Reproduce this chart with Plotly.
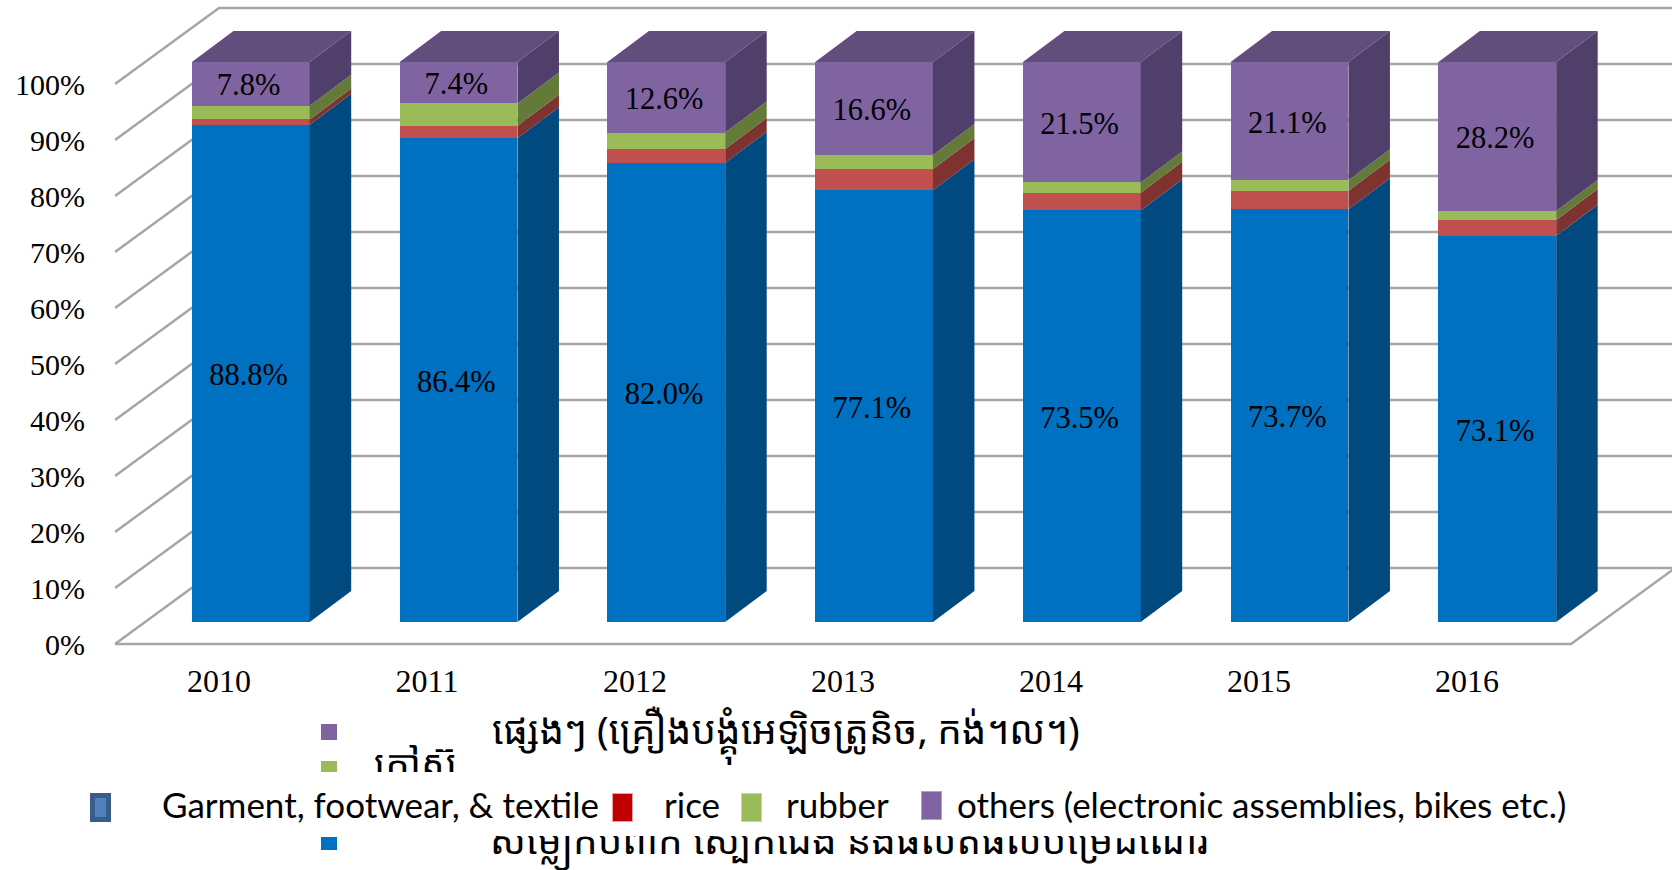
import plotly.graph_objects as go

# Export mix by year; the chart normalises each stack to 100%
years = [2010, 2011, 2012, 2013, 2014, 2015, 2016]
garment = [88.8, 86.4, 82.0, 77.1, 73.5, 73.7, 73.1]
rice = [0.95, 2.2, 2.45, 3.8, 3.15, 3.3, 3.0]
rubber = [2.45, 4.0, 2.95, 2.5, 1.85, 1.9, 1.7]
others = [7.8, 7.4, 12.6, 16.6, 21.5, 21.1, 28.2]

series_names = ["Garment, footwear, & textile", "rice", "rubber",
                "others (electronic assemblies, bikes etc.)"]
khmer_names = ["ផ្សេងៗ (គ្រឿងបង្គុំអេឡិចត្រូនិច, កង់។ល។)", "កៅស៊ូ",
               "សម្លៀកបំពាក់ ស្បែកជើង និងផលិតផលបម្រើដំណើរ"]
front_colors = ["#0070C0", "#C0504D", "#9BBB59", "#8064A2"]
side_colors = ["#004A80", "#7F3331", "#637A38", "#513F6B"]
top_color = "#624E7C"
grid_color = "#A6A6A6"
percent_ticks = list(range(0, 101, 10))

W, H = 1672, 870
PLOT_L, PLOT_B = 110, 650
UNIT_X = 208.0       # pixels per category on the floor plane
BAR_UNIT_X = 207.75  # pixels per category on the bar plane
UNIT_Y = 5.6         # pixels per percentage point

WALL_DX, WALL_DY = 0.5, 76 / UNIT_Y
BAR_DX, BAR_DY = 41.5 / BAR_UNIT_X, 31 / UNIT_Y
BAR_W = 117.8 / BAR_UNIT_X
BAR_LIFT = 22 / UNIT_Y
LABEL_DX, LABEL_DY = 2.2 / BAR_UNIT_X, 4 / UNIT_Y

x_lo = 2010 - (219 - PLOT_L) / UNIT_X
x_hi = 2010 + (W - 219) / UNIT_X
y_lo = (644 - PLOT_B) / UNIT_Y
y_hi = 644 / UNIT_Y
x2_lo = 2010 - (250.8 - PLOT_L) / BAR_UNIT_X
x2_hi = x2_lo + (W - PLOT_L) / BAR_UNIT_X


def px(x):
    return (x - PLOT_L) / (W - PLOT_L)


def py(y):
    return (PLOT_B - y) / PLOT_B


fig = go.Figure()

# Floor outline and wall gridlines on the base axes
gx, gy = [], []
wall_x = years[0] - 0.5
for v in percent_ticks:
    gx += [wall_x, wall_x + WALL_DX, x_hi, None]
    gy += [v, v + WALL_DY, v + WALL_DY, None]
gx += [wall_x, years[-1] + 0.5, years[-1] + 0.5 + WALL_DX]
gy += [0, 0, WALL_DY]
fig.add_trace(go.Scatter(x=gx, y=gy, mode="lines", xaxis="x", yaxis="y",
                         line=dict(color=grid_color, width=2.5), hoverinfo="skip"))

# Stack shares, normalised the same way barnorm does it
stacks = [garment, rice, rubber, others]
totals = [sum(s[i] for s in stacks) for i in range(len(years))]

for s, name, color in zip(stacks, series_names, front_colors):
    fig.add_trace(go.Bar(
        x=years, y=s, name=name, width=BAR_W, xaxis="x2", yaxis="y2",
        marker=dict(color=color, line=dict(width=0)), hoverinfo="skip"))

# Oblique faces of each stack
base = [0.0] * len(years)
mids = []
for s, color in zip(stacks, side_colors):
    fx, fy, mid = [], [], []
    for i, yr in enumerate(years):
        share = 100 * s[i] / totals[i]
        xr = yr + BAR_W / 2
        lo, hi = base[i], base[i] + share
        fx += [xr, xr + BAR_DX, xr + BAR_DX, xr, xr, None]
        fy += [lo, lo + BAR_DY, hi + BAR_DY, hi, lo, None]
        mid.append((lo + hi) / 2)
        base[i] = hi
    mids.append(mid)
    fig.add_trace(go.Scatter(x=fx, y=fy, mode="lines", fill="toself", fillcolor=color,
                             line=dict(width=0, color=color), xaxis="x2", yaxis="y2",
                             hoverinfo="skip"))

tx, ty = [], []
for yr in years:
    xl, xr = yr - BAR_W / 2, yr + BAR_W / 2
    tx += [xl, xr, xr + BAR_DX, xl + BAR_DX, xl, None]
    ty += [100, 100, 100 + BAR_DY, 100 + BAR_DY, 100, None]
fig.add_trace(go.Scatter(x=tx, y=ty, mode="lines", fill="toself", fillcolor=top_color,
                         line=dict(width=0, color=top_color), xaxis="x2", yaxis="y2",
                         hoverinfo="skip"))

# Value labels at the centre of the garment and others segments
for values, mid in ((garment, mids[0]), (others, mids[3])):
    fig.add_trace(go.Scatter(
        x=[yr - LABEL_DX for yr in years], y=[m - LABEL_DY for m in mid],
        mode="text", text=[f"{v:.1f}%" for v in values], textposition="middle center",
        textfont=dict(family="Liberation Serif", size=30.5, color="#000000"),
        xaxis="x2", yaxis="y2", hoverinfo="skip"))

serif_y = dict(family="Liberation Serif", size=30, color="#000000")
serif_x = dict(family="Liberation Serif", size=32, color="#000000")
khmer_font = "Noto Sans Khmer, Khmer OS, Noto Serif Khmer, Noto Sans, sans-serif"
legend_font = dict(family="Lato", size=35, color="#000000")
annotations = []


def text_at(text, left, cy, font):
    annotations.append(dict(text=text, xref="paper", yref="paper", x=px(left), y=py(cy),
                            xanchor="left", yanchor="middle", showarrow=False, font=font,
                            borderpad=0))


def swatch(left, top, w, h, color, edge=None, edge_w=0):
    annotations.append(dict(text=" ", xref="paper", yref="paper", x=px(left), y=py(top),
                            xanchor="left", yanchor="top", showarrow=False,
                            width=w - 2 * edge_w, height=h - 2 * edge_w,
                            bgcolor=color, bordercolor=edge or color, borderwidth=edge_w,
                            borderpad=0, font=dict(size=1)))


# Khmer legend rows, partly hidden by the English legend band
swatch(321, 724, 16, 16, front_colors[3])
swatch(321, 761, 16, 16, front_colors[2])
swatch(321, 837, 16, 13, front_colors[0])
text_at(khmer_names[0], 491, 734, dict(family=khmer_font, size=38.8, color="#000000"))
text_at(khmer_names[1], 373, 763, dict(family=khmer_font, size=38.8, color="#000000"))
text_at(khmer_names[2], 489, 842, dict(family=khmer_font, size=38.8, color="#000000"))

# English legend band
swatch(0, 772, W, 64, "#FFFFFF")
swatch(90, 793, 21, 29, "#4F81BD", "#385D8A", 5)
swatch(612, 793, 21, 29, "#C00000", "#E8A0A0", 1)
swatch(741, 793, 21, 29, front_colors[2], "#C4D79B", 1)
swatch(921, 791, 21, 29, front_colors[3], "#B2A1C7", 1)
text_at(series_names[0], 161, 804, legend_font)
text_at(series_names[1], 663, 804, legend_font)
text_at(series_names[2], 785, 804, legend_font)
text_at(series_names[3], 956, 804, legend_font)

fig.update_layout(
    width=W, height=H, barmode="stack", barnorm="percent", showlegend=False,
    paper_bgcolor="#FFFFFF", plot_bgcolor="rgba(0,0,0,0)",
    margin=dict(l=PLOT_L, r=0, t=0, b=H - PLOT_B, pad=0),
    annotations=annotations,
    xaxis=dict(range=[x_lo, x_hi], tickvals=years, ticktext=[str(y) for y in years],
               showgrid=False, zeroline=False, showline=False, ticks="outside", ticklen=3,
               tickcolor="rgba(0,0,0,0)", tickfont=serif_x),
    yaxis=dict(range=[y_lo, y_hi], tickvals=percent_ticks, ticktext=[f"{v}%" for v in percent_ticks],
               showgrid=False, zeroline=False, showline=False, ticks="outside", ticklen=18,
               tickcolor="rgba(0,0,0,0)", tickfont=serif_y),
    xaxis2=dict(range=[x2_lo, x2_hi], overlaying="x", visible=False),
    yaxis2=dict(range=[y_lo - BAR_LIFT, y_hi - BAR_LIFT], overlaying="y", visible=False),
)

fig.write_html("out.html")
